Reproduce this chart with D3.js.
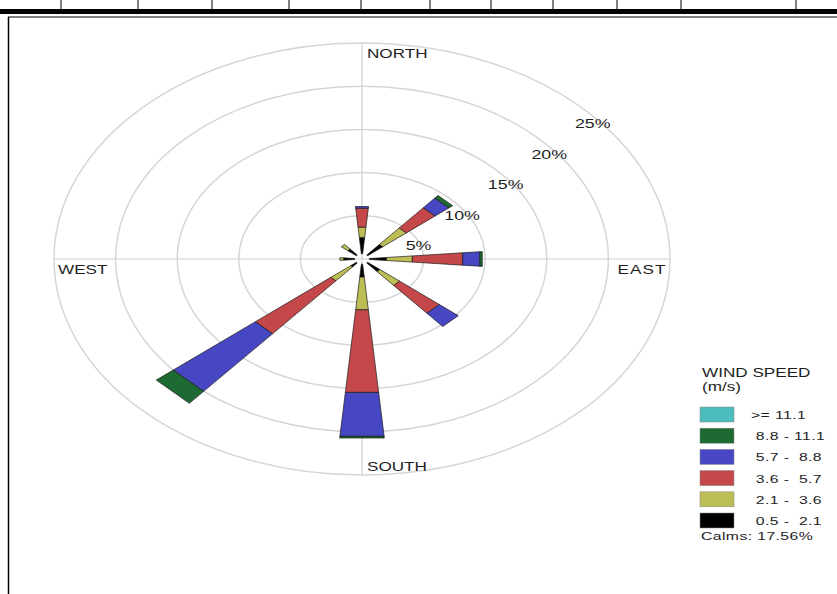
<!DOCTYPE html>
<html>
<head>
<meta charset="utf-8">
<script src="https://cdn.jsdelivr.net/npm/d3@7"></script>
<style>
html,body{margin:0;padding:0;background:#fff;}
svg{display:block;}
text{font-family:"Liberation Sans",Arial,sans-serif;fill:#1e1e1e;white-space:pre;}
</style>
</head>
<body>
<svg id="chart" width="837" height="594"></svg>
<script>
// ---- data ----
const directions = ["N", "NE", "E", "SE", "S", "SW", "W", "NW"];
const speedClasses = ["0.5 - 2.1", "2.1 - 3.6", "3.6 - 5.7", "5.7 - 8.8", "8.8 - 11.1", ">= 11.1"];
const legendLabels = [">= 11.1", " 8.8 - 11.1", " 5.7 -  8.8", " 3.6 -  5.7", " 2.1 -  3.6", " 0.5 -  2.1"];
const speed05_21  = [2.5, 2.2, 2.0, 1.9, 2.1, 1.2, 1.5, 1.5];
const speed21_36  = [1.2, 2.5, 2.1, 2.1, 3.8, 2.1, 0.3, 0.7];
const speed36_57  = [2.2, 3.05, 4.1, 4.2, 9.6, 8.0, 0, 0];
const speed57_88  = [0.2, 1.45, 1.4, 2.0, 5.1, 8.7, 0, 0];
const speed88_111 = [0, 0.4, 0.2, 0, 0.2, 1.8, 0, 0];
const speed111    = [0, 0, 0, 0, 0, 0, 0, 0];
const ringValues = [5, 10, 15, 20, 25];
const ringLabels = ["5%", "10%", "15%", "20%", "25%"];
const calmsText = "Calms: 17.56%";
const classColors = ["#000000", "#bdbd55", "#c4484a", "#4747c4", "#1d6a33", "#4dbcbc"];

// ---- layout ----
const svg = d3.select("#chart");
const cx = 362, cy = 259;
const xS = d3.scaleLinear().domain([-25, 25]).range([cx - 308, cx + 308]);
const yS = d3.scaleLinear().domain([-25, 25]).range([cy + 216, cy - 216]);
const SX = 1.37; // horizontal stretch of text
const hole = 0.6;
const halfW = 5 * Math.PI / 180;

// frame
svg.append("rect").attr("x", 0).attr("y", 9).attr("width", 837).attr("height", 5).attr("fill", "#000");
[61, 138, 212, 289, 361, 430, 491, 553, 617, 681, 796].forEach(x => {
  svg.append("line").attr("x1", x).attr("x2", x).attr("y1", 0).attr("y2", 14).attr("stroke", "#000").attr("stroke-width", 1);
});
svg.append("line").attr("x1", 8).attr("x2", 837).attr("y1", 17).attr("y2", 17).attr("stroke", "#000").attr("stroke-width", 1);
svg.append("line").attr("x1", 8.5).attr("x2", 8.5).attr("y1", 17).attr("y2", 594).attr("stroke", "#000").attr("stroke-width", 1.5);

const g = svg.append("g");

// rings
g.selectAll("ellipse.ring").data(ringValues).enter().append("ellipse")
  .attr("class", "ring")
  .attr("cx", xS(0)).attr("cy", yS(0))
  .attr("rx", d => xS(d) - xS(0)).attr("ry", d => yS(0) - yS(d))
  .attr("fill", "none").attr("stroke", "#d6d6d6").attr("stroke-width", 1.5);

// axes
g.append("line").attr("x1", xS(-25)).attr("x2", xS(25)).attr("y1", yS(0)).attr("y2", yS(0))
  .attr("stroke", "#d0d0d0").attr("stroke-width", 1.2);
g.append("line").attr("x1", xS(0)).attr("x2", xS(0)).attr("y1", yS(25)).attr("y2", yS(-25))
  .attr("stroke", "#d0d0d0").attr("stroke-width", 1.2);

// stacked bars
const table = directions.map((d, i) => ({
  dir: d,
  "0.5 - 2.1": speed05_21[i], "2.1 - 3.6": speed21_36[i], "3.6 - 5.7": speed36_57[i],
  "5.7 - 8.8": speed57_88[i], "8.8 - 11.1": speed88_111[i], ">= 11.1": speed111[i]
}));
const stack = d3.stack().keys(speedClasses)(table);
const angle = d3.scalePoint().domain(directions).range([0, 315]);
function pt(r, a) { return [xS(r * Math.sin(a)), yS(r * Math.cos(a))]; }

stack.forEach((layer, k) => {
  layer.forEach((seg, i) => {
    const r0 = Math.max(seg[0], hole), r1 = seg[1];
    if (r1 - r0 <= 0.001) return;
    const a = angle(directions[i]) * Math.PI / 180;
    const pts = [pt(r0, a - halfW), pt(r1, a - halfW), pt(r1, a + halfW), pt(r0, a + halfW)];
    g.append("polygon").attr("points", pts.map(p => p.join(",")).join(" "))
      .attr("fill", classColors[k]).attr("stroke", "#1a1a1a").attr("stroke-width", 0.7)
      .attr("stroke-linejoin", "round");
  });
});

// text helper
function txt(x, y, s, size, anchor) {
  return svg.append("text").attr("transform", `translate(${x},${y}) scale(${SX},1)`)
    .attr("font-size", size).attr("text-anchor", anchor || "start").text(s);
}

// ring labels
ringValues.forEach((v, i) => {
  const p = pt(v, Math.PI / 4);
  txt(p[0] + 13, p[1] + 22, ringLabels[i], 13, "middle");
});

// compass labels
txt(xS(0) + 5, yS(25) + 15, "NORTH", 12.5);
txt(xS(0) + 5, yS(-25) - 4, "SOUTH", 12.5);
txt(xS(-25) + 4, yS(0) + 15, "WEST", 12.5);
txt(xS(20) + 9, yS(0) + 15, "EAST", 12.5).attr("letter-spacing", 0.8);

// legend
txt(702, 377, "WIND SPEED", 12.5);
txt(702, 391, "(m/s)", 12.5);
const legColors = classColors.slice().reverse();
legendLabels.forEach((lab, i) => {
  const y = 407 + i * 21.2;
  svg.append("rect").attr("x", 700).attr("y", y).attr("width", 34).attr("height", 15)
    .attr("fill", legColors[i]).attr("stroke", "#888").attr("stroke-width", 0.5);
  txt(751, y + 12, lab, 11.5).attr("letter-spacing", 0.3);
});
txt(701, 540, calmsText, 11.5).attr("letter-spacing", 0.3);
</script>
</body>
</html>
